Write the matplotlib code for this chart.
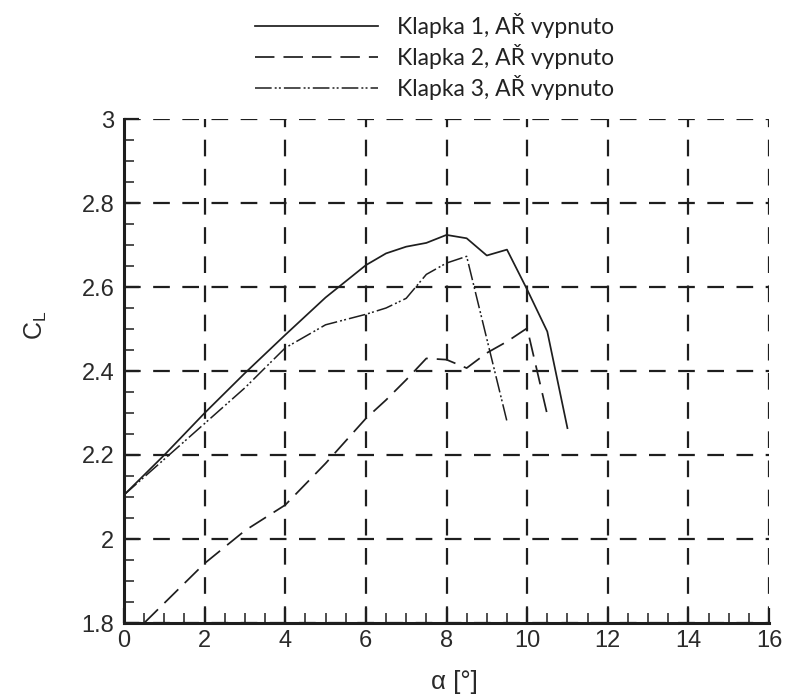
import matplotlib
matplotlib.use("Agg")
import matplotlib.pyplot as plt
from matplotlib.ticker import MultipleLocator, FixedLocator

# ---- data ----
alpha_k1 = [0, 1, 2, 3, 4, 5, 6, 6.5, 7, 7.5, 8, 8.5, 9, 9.5, 10, 10.5, 11]
cl_k1 = [2.105, 2.20, 2.30, 2.395, 2.486, 2.575, 2.652, 2.68, 2.696, 2.705,
         2.724, 2.716, 2.675, 2.689, 2.594, 2.494, 2.264]

alpha_k2 = [0.5, 2, 3, 4, 5, 6, 6.5, 7, 7.5, 8, 8.5, 9, 9.5, 10, 10.5]
cl_k2 = [1.80, 1.942, 2.02, 2.081, 2.18, 2.287, 2.331, 2.379, 2.43, 2.427,
         2.407, 2.443, 2.47, 2.502, 2.296]

alpha_k3 = [0, 1, 2, 3, 4, 5, 6, 6.5, 7, 7.5, 8, 8.5, 9.5]
cl_k3 = [2.105, 2.19, 2.275, 2.36, 2.455, 2.51, 2.535, 2.55, 2.573, 2.63,
         2.657, 2.673, 2.28]

labels = ["Klapka 1, AŘ vypnuto", "Klapka 2, AŘ vypnuto", "Klapka 3, AŘ vypnuto"]
xticks = [0, 2, 4, 6, 8, 10, 12, 14, 16]
yticks = [1.8, 2.0, 2.2, 2.4, 2.6, 2.8, 3.0]
ytick_labels = ["1.8", "2", "2.2", "2.4", "2.6", "2.8", "3"]
xlabel = "α [°]"
ylabel = "C$_\\mathregular{L}$"

plt.rcParams["lines.scale_dashes"] = False
plt.rcParams["font.family"] = ["Liberation Sans", "DejaVu Sans"]

W, H = 786, 695
fig = plt.figure(figsize=(W / 100, H / 100), dpi=100)
ax = fig.add_axes([124 / W, 1 - 623 / H, 645 / W, 504 / H])

ink = "#1e1e1e"
ax.plot(alpha_k1, cl_k1, color=ink, lw=1.25, label=labels[0])
ax.plot(alpha_k2, cl_k2, color=ink, lw=1.25, dashes=(14, 6.5), label=labels[1])
ax.plot(alpha_k3, cl_k3, color=ink, lw=1.1,
        dashes=(12, 2.2, 1.4, 1.6, 1.4, 2.2), label=labels[2])

ax.set_xlim(0, 16)
ax.set_ylim(1.8, 3.0)

ax.xaxis.set_major_locator(FixedLocator(xticks))
ax.xaxis.set_minor_locator(MultipleLocator(0.5))
ax.yaxis.set_major_locator(FixedLocator(yticks))
ax.set_yticklabels(ytick_labels)
ax.yaxis.set_minor_locator(MultipleLocator(0.05))

for s in ("top", "right"):
    ax.spines[s].set_visible(False)
for s in ("left", "bottom"):
    ax.spines[s].set_linewidth(2.2)
    ax.spines[s].set_color(ink)

ax.tick_params(which="major", direction="in", length=10.5, width=1.6,
               color=ink, labelsize=17, labelcolor="#2a2a2a")
ax.tick_params(which="minor", direction="in", length=7, width=1.1, color=ink)
ax.tick_params(axis="y", which="major", pad=7)
ax.tick_params(axis="x", which="major", pad=5)

ax.grid(True, which="major", color=ink, lw=1.6, dashes=(12, 9))
ax.set_axisbelow(True)

ax.set_xlabel(xlabel, fontsize=18.5, color="#2a2a2a")
ax.xaxis.set_label_coords(0.512, -0.094)
ax.set_ylabel(ylabel, fontsize=18, color="#2a2a2a")
ax.yaxis.set_label_coords(-0.117, 0.59)

leg = ax.legend(loc="upper left", bbox_to_anchor=(255 / W, 1 - 13 / H),
                bbox_transform=fig.transFigure, frameon=False,
                borderpad=0, borderaxespad=0, handlelength=5.35,
                handletextpad=0.83, labelspacing=0.26,
                prop={"family": "Lato", "size": 16.5})
for t in leg.get_texts():
    t.set_color("#222222")

fig.savefig("out.png", dpi=100)
